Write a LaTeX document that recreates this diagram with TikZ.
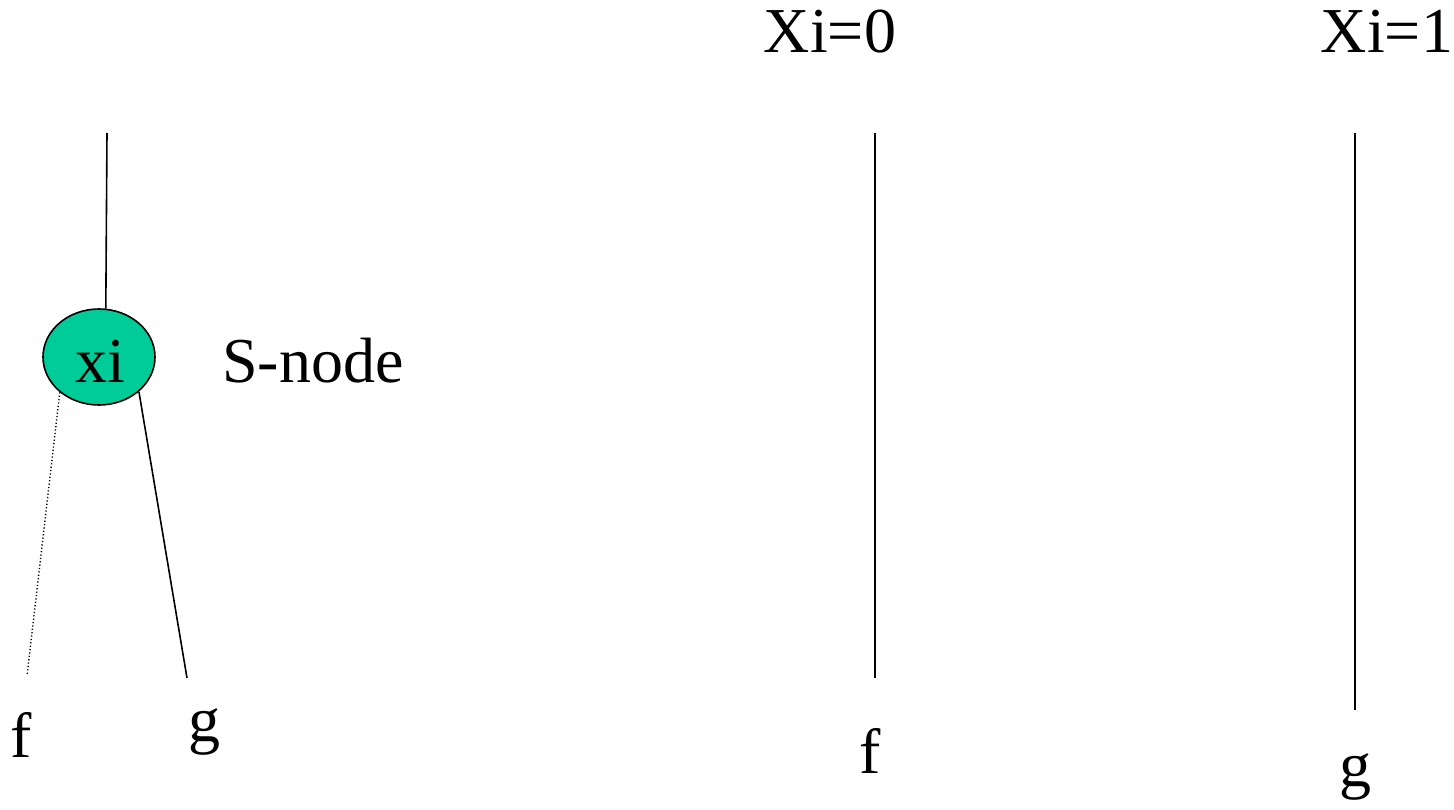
\documentclass[tikz,border=0pt]{standalone}
\usepackage{fontspec}
\setmainfont{Liberation Serif}
\usetikzlibrary{shapes.geometric}
\definecolor{snode}{HTML}{00CC99}
\tikzset{
  lbl/.style={font=\fontsize{64}{64}\selectfont, inner sep=0pt, anchor=base},
  wire/.style={line width=1.6pt},
  dotwire/.style={line width=1.4pt, dash pattern=on 1.2pt off 2.2pt},
}
\begin{document}
\begin{tikzpicture}[x=1pt,y=-1pt]
\useasboundingbox (0,0) rectangle (1454,810);
% S-node
\node[ellipse, draw, line width=1.6pt, fill=snode, minimum width=112pt, minimum height=96pt, inner sep=0pt] (xi) at (99,357) {};
\node[lbl] (xitxt) at (100,382) {xi};
\node[lbl, anchor=base west] (snlabel) at (222,382) {S-node};
\coordinate (top1) at (107,133);
\coordinate (fend) at (27,676);
\coordinate (gend) at (187,678);
\draw[wire] (top1) -- (xi.82);
\draw[dotwire] (xi.222) -- (fend);
\draw[wire] (xi.319.5) -- (gend);
\node[lbl] (f1) at (21,757) {f};
\node[lbl] (g1) at (204,741) {g};
% Xi=0
\node[lbl] (x0) at (830,53) {Xi=0};
\coordinate (t0) at (875,133);
\coordinate (b0) at (875,678);
\draw[wire] (t0) -- (b0);
\node[lbl] (f2) at (870,773) {f};
% Xi=1
\node[lbl] (x1) at (1387,53) {Xi=1};
\coordinate (t1) at (1355,133);
\coordinate (b1) at (1355,710);
\draw[wire] (t1) -- (b1);
\node[lbl] (g2) at (1355,786) {g};
\end{tikzpicture}
\end{document}
